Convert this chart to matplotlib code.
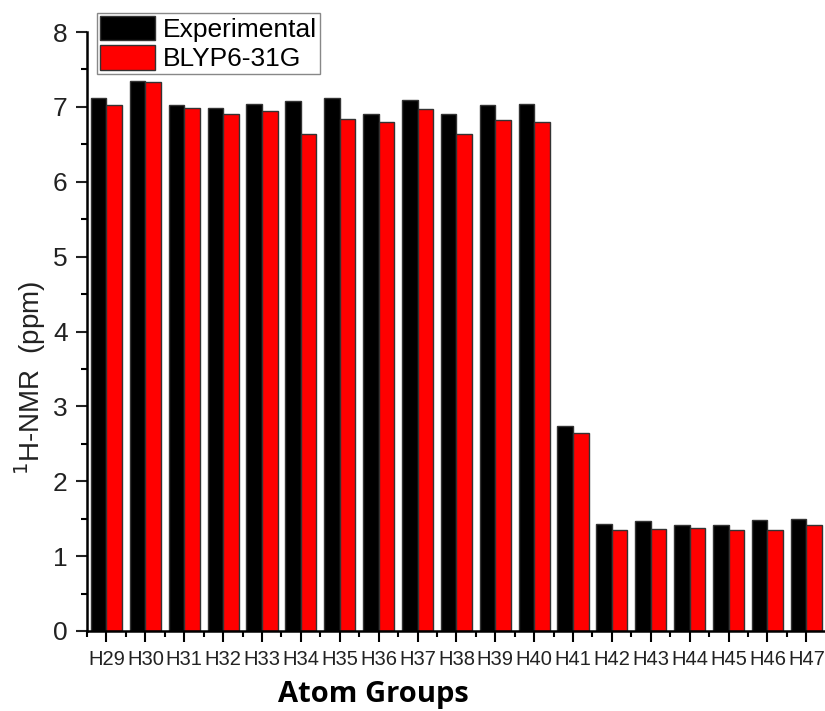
import numpy as np
import matplotlib
matplotlib.use('Agg')
import matplotlib.pyplot as plt
from matplotlib.ticker import MultipleLocator

plt.rcParams['font.family'] = ['Liberation Sans', 'DejaVu Sans']

atoms = ['H29', 'H30', 'H31', 'H32', 'H33', 'H34', 'H35', 'H36', 'H37', 'H38',
         'H39', 'H40', 'H41', 'H42', 'H43', 'H44', 'H45', 'H46', 'H47']
experimental = [7.12, 7.35, 7.02, 6.98, 7.04, 7.08, 7.12, 6.90, 7.09, 6.90,
                7.03, 7.04, 2.74, 1.43, 1.47, 1.41, 1.41, 1.48, 1.50]
blyp = [7.02, 7.33, 6.99, 6.90, 6.94, 6.64, 6.84, 6.80, 6.97, 6.64,
        6.83, 6.80, 2.65, 1.35, 1.36, 1.38, 1.35, 1.35, 1.42]

W, H = 825, 711
fig = plt.figure(figsize=(8.25, 7.11), dpi=100)
ax = fig.add_axes([87 / W, 80 / H, 1 - 87 / W, 599 / H])

x = np.arange(len(atoms))
bw = 0.4
b1 = ax.bar(x - bw / 2, experimental, bw, color='black', edgecolor='#333333', linewidth=1, label='Experimental')
b2 = ax.bar(x + bw / 2, blyp, bw, color='#ff0000', edgecolor='#333333', linewidth=1, label='BLYP6-31G')

ax.set_xlim(-0.5, 18.48)
ax.set_ylim(0, 8)
ax.set_xticks(x)
ax.set_xticklabels(atoms, fontsize=14.5, color='#222222')
ax.xaxis.set_minor_locator(MultipleLocator(1, offset=0.5))
ax.yaxis.set_major_locator(MultipleLocator(1))
ax.yaxis.set_minor_locator(MultipleLocator(0.5))
ax.tick_params(axis='y', labelsize=19, colors='#222222')
ax.tick_params(which='major', direction='out', length=8, width=1.5, pad=6)
ax.tick_params(which='minor', direction='out', length=4.5, width=1.5)

for s in ['top', 'right']:
    ax.spines[s].set_visible(False)
for s in ['left', 'bottom']:
    ax.spines[s].set_linewidth(1.8)

fig.text(30 / W, 1 - 378 / H, r'$^{1}$H-NMR  (ppm)', rotation=90, fontsize=20,
         ha='center', va='center', color='#222222')
fig.text(373 / W, 9 / H, 'Atom Groups', fontsize=21, fontweight='bold',
         family=['Open Sans', 'DejaVu Sans'], ha='center', va='baseline')

leg = fig.legend(handles=[b1, b2], loc='upper left', bbox_to_anchor=(97 / W, 1 - 13 / H),
                 fontsize=19, handlelength=2.1, handleheight=1.05, labelspacing=0.12,
                 handletextpad=0.3, borderpad=0.1, borderaxespad=0, fancybox=False,
                 framealpha=1)
leg.get_frame().set_edgecolor('#888888')
leg.get_frame().set_linewidth(1)

fig.savefig('out.png', dpi=100)
